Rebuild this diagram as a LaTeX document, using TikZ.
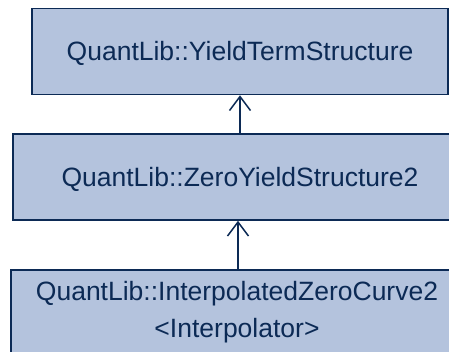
\documentclass[tikz,border=0pt]{standalone}
\usepackage{fontspec}
\setmainfont{Liberation Sans}
\usetikzlibrary{arrows.meta}
\definecolor{boxfill}{HTML}{B4C3DD}
\definecolor{navy}{HTML}{0C2A55}
\tikzset{
  classbox/.style={draw=navy, line width=1.6pt, fill=boxfill, rectangle,
    inner sep=0pt, text=navy, font=\fontsize{26.5}{37}\selectfont},
  oneline/.style={text height=19pt, text depth=0pt},
  classtext/.style={inner sep=0pt, text=navy, align=center,
    font=\fontsize{26.5}{37}\selectfont},
  inherit/.style={draw=navy, line width=1.5pt,
    -{Straight Barb[length=14pt, width=21pt, line width=1.5pt]}}
}
\begin{document}
\begin{tikzpicture}[x=1pt, y=-1pt]
  \useasboundingbox (0,0) rectangle (449,352);
  \clip (0,0) rectangle (449,352);
  \fill[white] (0,0) rectangle (449,352);
  \node[classbox, oneline, minimum width=416pt, minimum height=86pt] (yts) at (240,51.5)
    {QuantLib::YieldTermStructure};
  \node[classbox, oneline, minimum width=454pt, minimum height=86pt] (zys) at (240,177)
    {QuantLib::ZeroYieldStructure2};
  % templated class: box runs past the lower edge
  \node[classbox, minimum width=454pt, minimum height=104pt] (izc) at (238,322) {};
  \node[classtext, anchor=base] (izcname) at (237,337)
    {QuantLib::InterpolatedZeroCurve2\\{}<Interpolator>};
  \draw[inherit] (zys.north) -- (yts.south);
  \draw[inherit] (izc.north) -- (izc.north |- zys.south);
\end{tikzpicture}
\end{document}
